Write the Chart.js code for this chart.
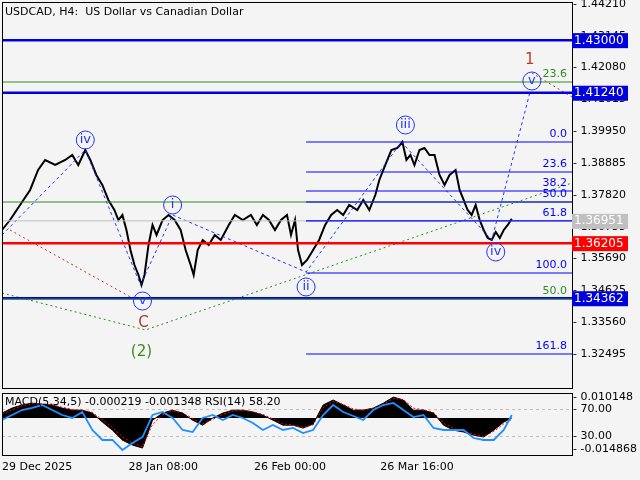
<!DOCTYPE html>
<html>
<head>
<meta charset="utf-8">
<script src="https://cdn.jsdelivr.net/npm/chart.js@4"></script>
<style>
  body { margin: 0; background: #f4f4f4; width: 640px; height: 480px; overflow: hidden; }
  #main { position: absolute; left: 0; top: 0; width: 640px; height: 392px; }
  #ind { position: absolute; left: 0; top: 392px; width: 640px; height: 88px; }
</style>
</head>
<body>
<div id="main"><canvas id="c1"></canvas></div>
<div id="ind"><canvas id="c2"></canvas></div>
<script>
// price path (x = position along time axis, y = price)
const priceX = [2,10,20,30,38,45,55,65,72,78,85,90,96,102,108,114,118,122,126,130,134,138,141,144,148,152,156,162,168,174,180,185,190,193,197,202,208,214,220,228,234,242,250,256,262,268,274,280,286,290,294,297,301,306,312,318,324,330,336,342,348,356,362,368,374,378,382,386,390,396,401,405,409,413,418,423,428,433,438,443,448,454,458,462,466,470,474,478,482,486,490,494,498,502,506,510];
const priceY = [1.36646,1.36980,1.37483,1.37985,1.38654,1.38989,1.38821,1.38989,1.39156,1.38821,1.39323,1.38989,1.38487,1.38152,1.37650,1.37315,1.36980,1.37148,1.36646,1.35976,1.35474,1.35140,1.34805,1.35140,1.36144,1.36813,1.36479,1.36980,1.37148,1.36980,1.36646,1.35976,1.35474,1.35140,1.35976,1.36311,1.36144,1.36478,1.36311,1.36813,1.37148,1.36980,1.37148,1.36813,1.37148,1.36980,1.36646,1.36980,1.37148,1.36479,1.36980,1.35976,1.35474,1.35642,1.35976,1.36311,1.36813,1.37148,1.37315,1.37148,1.37483,1.37315,1.37650,1.37315,1.37817,1.38319,1.38654,1.38989,1.39323,1.39390,1.39591,1.38989,1.39156,1.38821,1.39323,1.39390,1.39156,1.39156,1.38487,1.38152,1.38487,1.38654,1.37985,1.37650,1.37315,1.37148,1.37483,1.36980,1.36646,1.36378,1.36311,1.36579,1.36378,1.36646,1.36813,1.37024];

const priceTicks = [1.44210,1.43145,1.42080,1.41015,1.39950,1.38885,1.37820,1.36755,1.35690,1.34625,1.33560,1.32495];

const fibLevels = [1.39591,1.38587,1.37951,1.37583,1.36951,1.35207,1.32495];
const fibNames = ['0.0','23.6','38.2','50.0','61.8','100.0','161.8'];
const greenLevels = [1.41599,1.37583,1.34336];
const greenNames = ['23.6','','50.0'];

const waveX = [2,85,140,172,305,400,490,528];
const waveY = [1.36479,1.39323,1.34805,1.37148,1.35240,1.39591,1.36311,1.41240];
const trendX = [2,145,570];
const trendY = [1.34537,1.33300,1.38219];
const redX1 = [10,130], redY1 = [1.36646,1.34403];
const redX2 = [530,570], redY2 = [1.41901,1.41097];

const waveLabels = [
  ['iv',85,1.39658],['v',142,1.34269],['i',172,1.37483],['ii',305,1.34738],
  ['iii',404,1.40160],['iv',494,1.35910],['v',530,1.41633]
];
const textLabels = [['C',143,1.33533,'#b03a2e'],['(2)',141,1.32562,'#3a8a1a'],['1',528,1.42336,'#c0392b']];

// indicator panel
const indX = [2,12,22,32,42,52,62,72,82,92,102,112,122,132,142,152,162,172,182,192,202,212,222,232,242,252,262,272,282,292,302,312,322,332,342,352,362,372,382,392,402,412,422,432,442,452,462,472,482,492,502,510];
const rsi = [53.7,61.1,68.5,71.5,75.9,68.5,61.1,56.7,65.6,38.9,24.1,24.1,9.3,19.6,28.5,61.1,65.6,56.7,38.9,35.9,56.7,61.1,53.7,61.1,56.7,49.3,38.9,46.3,38.9,41.9,34.4,38.9,61.1,75.9,65.6,59.6,53.7,68.5,75.9,78.9,68.5,58.1,61.1,41.9,38.9,38.9,38.9,27.0,24.1,24.1,38.9,61.1];
const macd = [0.0024,0.0048,0.0063,0.0072,0.0067,0.0063,0.0048,0.0038,0.0038,0.0024,-0.0019,-0.0058,-0.0106,-0.0130,-0.0144,-0.0010,0.0024,0.0038,0.0024,-0.0010,-0.0034,0.0000,0.0024,0.0038,0.0038,0.0029,0.0014,-0.0010,-0.0034,-0.0034,-0.0048,-0.0029,0.0063,0.0087,0.0063,0.0038,0.0038,0.0048,0.0072,0.0101,0.0087,0.0038,0.0038,0.0024,-0.0034,-0.0058,-0.0067,-0.0082,-0.0091,-0.0058,-0.0019,0.0000];
const signal = [0.0020,0.0040,0.0058,0.0068,0.0068,0.0064,0.0052,0.0042,0.0038,0.0028,-0.0008,-0.0045,-0.0090,-0.0120,-0.0138,-0.0030,0.0015,0.0034,0.0026,-0.0002,-0.0028,-0.0006,0.0018,0.0034,0.0037,0.0031,0.0018,-0.0004,-0.0028,-0.0033,-0.0044,-0.0033,0.0050,0.0080,0.0066,0.0044,0.0039,0.0046,0.0066,0.0095,0.0089,0.0048,0.0040,0.0028,-0.0025,-0.0050,-0.0063,-0.0078,-0.0088,-0.0064,-0.0028,-0.0006];
const macdTicks = [0.010148,-0.014868];
const rsiTicks = [70,30];
const dateTicks = [2,128,253,379];
const dateNames = ['29 Dec 2025','28 Jan 08:00','26 Feb 00:00','26 Mar 16:00'];

const FONT = 'DejaVu Sans';
Chart.defaults.font.family = FONT;
Chart.defaults.font.size = 10;
Chart.defaults.color = '#000';

const pts = (xs, ys) => xs.map((x, i) => ({ x: x, y: ys[i] }));
const hline = (y, x0, color, w, dash) => ({
  data: [{ x: x0, y: y }, { x: 570, y: y }], borderColor: color, borderWidth: w,
  borderDash: dash || [], pointRadius: 0, fill: false
});

const datasets = [];
fibLevels.forEach(v => datasets.push(hline(v, 305, '#0000ff', 1.2)));
greenLevels.forEach(v => datasets.push(hline(v, 2, '#2e8b20', 1.2)));
datasets.push(hline(1.36951, 2, '#c0c0c0', 1));
datasets.push(hline(1.43000, 2, '#0000dd', 2.5));
datasets.push(hline(1.41240, 2, '#0000dd', 2.5));
datasets.push(hline(1.34362, 2, '#0000dd', 2.5));
datasets.push(hline(1.36205, 2, '#ff0000', 2.5));
datasets.push({ data: pts(waveX, waveY), borderColor: '#2233ff', borderWidth: 1, borderDash: [3, 3], pointRadius: 0 });
datasets.push({ data: pts(trendX, trendY), borderColor: '#2e8b20', borderWidth: 1, borderDash: [2, 3], pointRadius: 0 });
datasets.push({ data: pts(redX1, redY1), borderColor: '#b03a2e', borderWidth: 1, borderDash: [2, 3], pointRadius: 0 });
datasets.push({ data: pts(redX2, redY2), borderColor: '#c0392b', borderWidth: 1, borderDash: [2, 3], pointRadius: 0 });
datasets.push({ data: pts(priceX, priceY), borderColor: '#000', borderWidth: 2, pointRadius: 0 });

// draws "- label" ticks to the right of the plot
function rightTicks(ctx, scale, values, fmt, x) {
  ctx.font = '11px ' + FONT; ctx.fillStyle = '#000';
  ctx.textAlign = 'left'; ctx.textBaseline = 'middle';
  values.forEach(v => ctx.fillText('- ' + fmt(v), x, scale.getPixelForValue(v)));
}

const mainDraw = {
  id: 'mainDraw',
  afterDatasetsDraw(chart) {
    const { ctx, scales: { x, y }, chartArea: a } = chart;
    ctx.save();
    rightTicks(ctx, y, priceTicks, v => v.toFixed(5), a.right + 1);
    ctx.font = '11px ' + FONT;
    ctx.textAlign = 'right';
    ctx.textBaseline = 'bottom';
    fibLevels.forEach((v, i) => { ctx.fillStyle = '#0000ff'; ctx.fillText(fibNames[i], 567, y.getPixelForValue(v) - 2); });
    greenLevels.forEach((v, i) => { ctx.fillStyle = '#2e8b20'; if (greenNames[i]) ctx.fillText(greenNames[i], 567, y.getPixelForValue(v) - 2); });
    ctx.textAlign = 'center'; ctx.textBaseline = 'middle';
    waveLabels.forEach(([t, xv, yv]) => {
      const px = x.getPixelForValue(xv), py = y.getPixelForValue(yv);
      ctx.beginPath(); ctx.arc(px, py, 9, 0, Math.PI * 2);
      ctx.strokeStyle = '#2233ff'; ctx.lineWidth = 1; ctx.stroke();
      ctx.fillStyle = '#2233ff'; ctx.font = '13px ' + FONT; ctx.fillText(t, px, py);
    });
    textLabels.forEach(([t, xv, yv, c]) => {
      ctx.fillStyle = c; ctx.font = '15px ' + FONT;
      ctx.fillText(t, x.getPixelForValue(xv), y.getPixelForValue(yv));
    });
    ctx.strokeStyle = '#000'; ctx.lineWidth = 1;
    ctx.strokeRect(a.left + 0.5, a.top + 0.5, a.right - a.left, a.bottom - a.top);
    ctx.font = '11px ' + FONT; ctx.textAlign = 'left'; ctx.fillStyle = '#000';
    ctx.fillText('USDCAD, H4:  US Dollar vs Canadian Dollar', 5, 12);
    const boxes = [[1.43000, '#0000dd'], [1.41240, '#0000dd'], [1.36951, '#c0c0c0'], [1.36205, '#ff0000'], [1.34362, '#0000dd']];
    boxes.forEach(([v, c]) => {
      const py = y.getPixelForValue(v);
      ctx.fillStyle = c; ctx.fillRect(572, py - 7, 56, 15);
      ctx.fillStyle = '#fff'; ctx.font = '12px ' + FONT; ctx.textAlign = 'left';
      ctx.fillText(v.toFixed(5), 574, py + 0.5);
    });
    ctx.restore();
  }
};

new Chart(document.getElementById('c1'), {
  type: 'line',
  data: { datasets: datasets },
  options: {
    responsive: true, maintainAspectRatio: false, animation: false,
    layout: { padding: { left: 2, top: 2, bottom: 4, right: 0 } },
    plugins: { legend: { display: false }, tooltip: { enabled: false } },
    elements: { line: { tension: 0 } },
    scales: {
      x: { type: 'linear', min: 2, max: 570, display: false },
      y: {
        position: 'right', min: 1.31357, max: 1.44277,
        afterFit: s => { s.width = 68; },
        grid: { display: false }, border: { display: false },
        ticks: { display: false }
      }
    }
  },
  plugins: [mainDraw]
});

const indDraw = {
  id: 'indDraw',
  beforeDatasetsDraw(chart) {
    const { ctx, scales: { yR }, chartArea: a } = chart;
    ctx.save();
    ctx.strokeStyle = '#c0c0c0'; ctx.setLineDash([3, 3]); ctx.lineWidth = 1;
    rsiTicks.forEach(v => {
      const py = Math.round(yR.getPixelForValue(v)) + 0.5;
      ctx.beginPath(); ctx.moveTo(a.left, py); ctx.lineTo(a.right, py); ctx.stroke();
    });
    ctx.restore();
  },
  afterDatasetsDraw(chart) {
    const { ctx, scales: { yR, yM }, chartArea: a } = chart;
    ctx.save();
    ctx.strokeStyle = '#000'; ctx.lineWidth = 1;
    ctx.strokeRect(a.left + 0.5, a.top + 0.5, a.right - a.left, a.bottom - a.top);
    rightTicks(ctx, yR, rsiTicks, v => v.toFixed(2), a.right + 1);
    rightTicks(ctx, yM, macdTicks, v => v.toFixed(6), a.right + 1);
    ctx.font = '11px ' + FONT; ctx.textAlign = 'left'; ctx.textBaseline = 'middle';
    ctx.fillText('MACD(5,34,5) -0.000219 -0.001348 RSI(14) 58.20', 5, a.top + 9);
    ctx.restore();
  }
};

new Chart(document.getElementById('c2'), {
  type: 'line',
  data: {
    datasets: [
      { data: pts(indX, rsi), yAxisID: 'yR', borderColor: '#1e90ff', borderWidth: 1.8, pointRadius: 0 },
      { data: pts(indX, signal), yAxisID: 'yM', borderColor: '#ff0000', borderWidth: 1, borderDash: [2, 2], pointRadius: 0 },
      { data: pts(indX, macd), yAxisID: 'yM', borderColor: '#000', backgroundColor: '#000', borderWidth: 1, fill: 'origin', pointRadius: 0 }
    ]
  },
  options: {
    responsive: true, maintainAspectRatio: false, animation: false,
    layout: { padding: { left: 2, top: 1, bottom: 0, right: 0 } },
    plugins: { legend: { display: false }, tooltip: { enabled: false } },
    elements: { line: { tension: 0 } },
    scales: {
      x: {
        type: 'linear', min: 2, max: 570,
        afterBuildTicks: s => { s.ticks = dateTicks.map(v => ({ value: v })); },
        afterFit: s => { s.height = 25; },
        grid: { display: false, drawTicks: true, tickLength: 4, color: '#000' },
        border: { display: false },
        ticks: {
          callback: v => dateNames[dateTicks.indexOf(v)], align: 'start', maxRotation: 0,
          font: { size: 11 }, color: '#000', padding: 2
        }
      },
      yM: {
        position: 'right', min: -0.017754, max: 0.012072,
        afterFit: s => { s.width = 68; },
        grid: { display: false }, border: { display: false },
        ticks: { display: false }
      },
      yR: { display: false, min: 1.85, max: 93.7 }
    }
  },
  plugins: [indDraw]
});
</script>
</body>
</html>
